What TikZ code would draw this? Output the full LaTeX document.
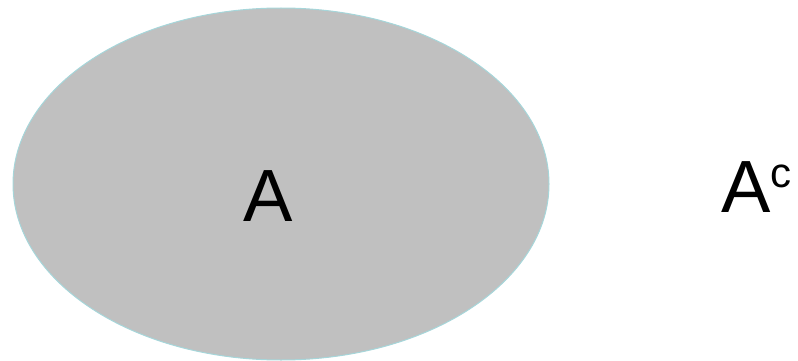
\documentclass[tikz,border=0pt]{standalone}
\usepackage{fontspec}
\setmainfont{Liberation Sans}
\definecolor{setfill}{HTML}{C0C0C0}
\definecolor{setedge}{HTML}{A6D6DA}
\begin{document}
\begin{tikzpicture}[x=1pt,y=-1pt,
  bigtext/.style={font=\fontsize{74}{74}\selectfont, inner sep=0pt, anchor=base west}]
\useasboundingbox (0,0) rectangle (798,361);
\draw[setedge, fill=setfill, line width=1pt] (281,184) ellipse [x radius=268, y radius=176];
\node[bigtext] (a) at (243,221) {A};
\node[bigtext] (ac) at (721,212) {A\raisebox{25pt}{\fontsize{42}{42}\selectfont c}};
\end{tikzpicture}
\end{document}
